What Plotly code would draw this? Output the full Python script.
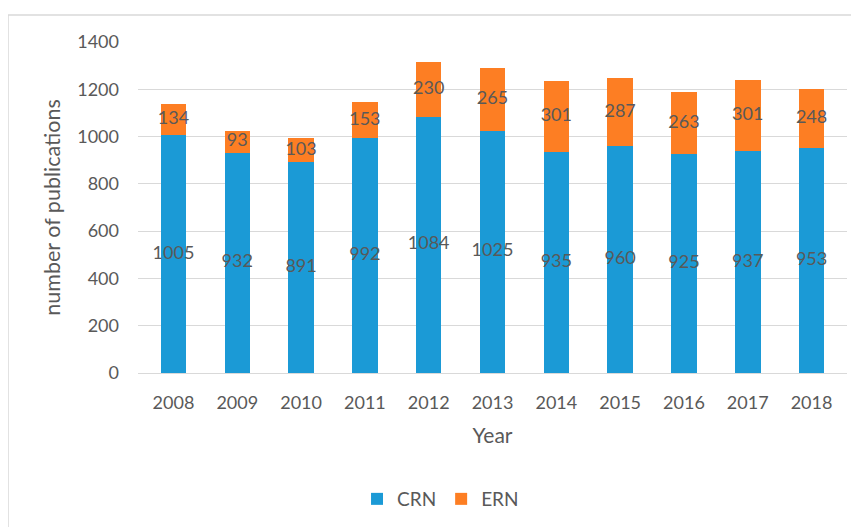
import plotly.graph_objects as go

years = ["2008", "2009", "2010", "2011", "2012", "2013", "2014", "2015", "2016", "2017", "2018"]
crn = [1005, 932, 891, 992, 1084, 1025, 935, 960, 925, 937, 953]
ern = [134, 93, 103, 153, 230, 265, 301, 287, 263, 301, 248]
y_ticks = [0, 200, 400, 600, 800, 1000, 1200, 1400]

BLUE = "#1b9ad6"
ORANGE = "#fd7e23"
TXT = "#595959"
FONT = "Lato, Open Sans, sans-serif"

fig = go.Figure()
fig.add_trace(go.Bar(x=years, y=crn, name="CRN", marker=dict(color=BLUE, line=dict(width=0)), width=0.4))
fig.add_trace(go.Bar(x=years, y=ern, name="ERN", marker=dict(color=ORANGE, line=dict(width=0)), width=0.4))

# data labels centered in each segment
crn_mid = [c / 2 for c in crn]
ern_mid = [c + e / 2 for c, e in zip(crn, ern)]
fig.add_trace(go.Scatter(x=years, y=crn_mid, mode="text", text=[str(v) for v in crn],
                         textfont=dict(size=18, color=TXT, family=FONT), showlegend=False, hoverinfo="skip"))
fig.add_trace(go.Scatter(x=years, y=ern_mid, mode="text", text=[str(v) for v in ern],
                         textfont=dict(size=18, color=TXT, family=FONT), showlegend=False, hoverinfo="skip"))

# page has an 8px body margin; figure sized to fit the window
W, H = 851, 519
L, T = 130, 34
pw, ph = 709, 331
R, B = W - L - pw, H - T - ph

fig.update_layout(
    width=W, height=H,
    margin=dict(l=L, r=R, t=T, b=B, autoexpand=False),
    barmode="stack",
    plot_bgcolor="white", paper_bgcolor="white",
    font=dict(family=FONT, color=TXT, size=18),
    legend=dict(orientation="h", x=0.4267, xanchor="center", y=-0.3807, yanchor="middle",
                font=dict(size=19, color=TXT), traceorder="normal", itemwidth=30),
    xaxis=dict(showgrid=False, showline=False, ticks="outside", ticklen=13, tickcolor="rgba(0,0,0,0)",
               tickfont=dict(size=18, color=TXT),
               title=dict(text="Year", font=dict(size=21, color=TXT), standoff=16), fixedrange=True),
    yaxis=dict(range=[0, 1400], tickvals=y_ticks, showgrid=True, gridcolor="#d9d9d9", gridwidth=1.3,
               zeroline=True, zerolinecolor="#d9d9d9", zerolinewidth=1.3, showline=False,
               tickfont=dict(size=18, color=TXT), ticklabelstandoff=18,
               title=dict(text="number of publications", font=dict(size=21.5, color=TXT), standoff=10)),
    shapes=[dict(type="rect", xref="paper", yref="paper",
                 x0=(0 - L) / pw, x1=(W + 20 - L) / pw,
                 y0=(T + ph - (H + 20)) / ph, y1=(T + ph - 7) / ph,
                 line=dict(color="#d9d9d9", width=1.5), fillcolor="rgba(0,0,0,0)", layer="below")],
)

fig.write_html("out.html")
